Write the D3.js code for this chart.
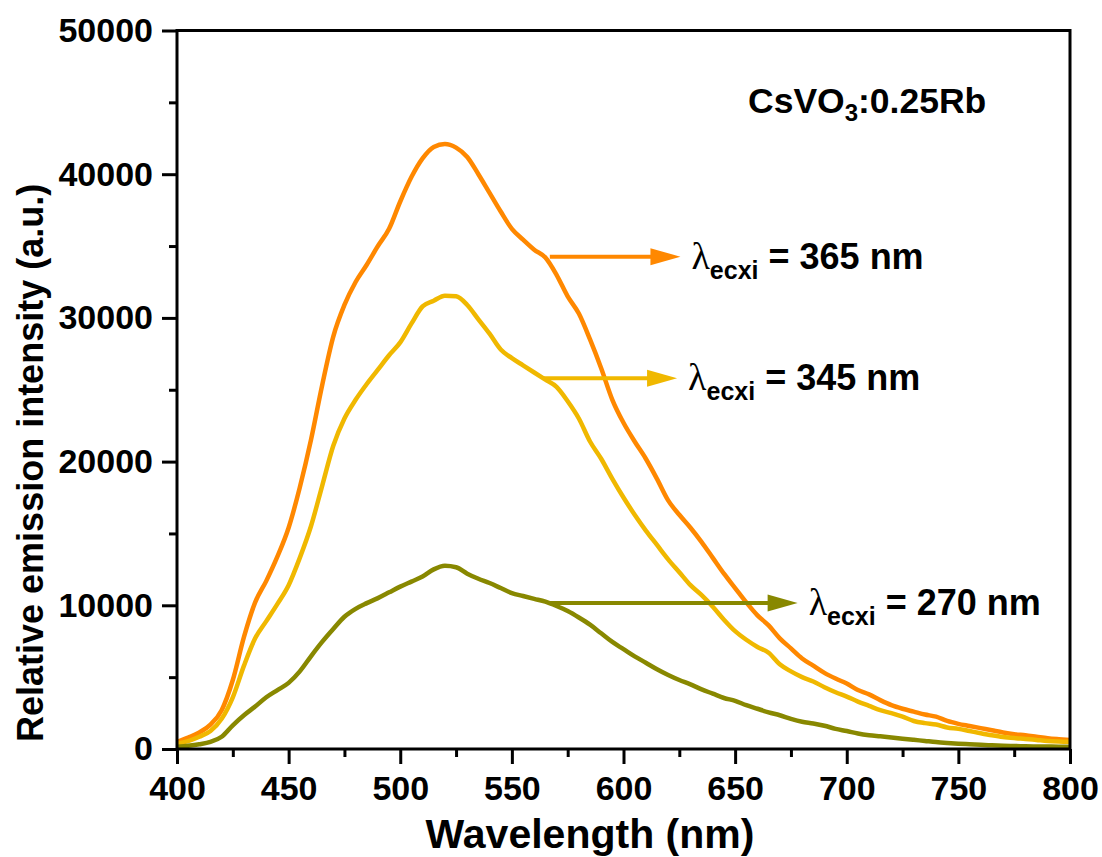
<!DOCTYPE html>
<meta charset="utf-8">
<title>CsVO3:0.25Rb emission</title>
<style>
body { margin: 0; background: #fff; }
text { font-family: "Liberation Sans", Arial, sans-serif; font-weight: bold; }
</style>
<script src="https://d3js.org/d3.v7.min.js"></script>
<div id="chart"></div>
<script>

var width = 1102,
    height = 857,
    margin = {top: 30.5, right: 32, bottom: 108, left: 177};

// wavelength grid (nm)
var wavelengths = [400,405,410,415,420,425,430,435,440,445,450,455,460,465,470,475,480,485,490,495,
  500,505,510,515,520,525,530,535,540,545,550,555,560,565,570,575,580,585,590,595,
  600,605,610,615,620,625,630,635,640,645,650,655,660,665,670,675,680,685,690,695,
  700,705,710,715,720,725,730,735,740,745,750,755,760,765,770,775,780,785,790,795,800];

var exc365 = [500,800,1150,1700,2700,4800,7800,10200,11700,13400,15400,18200,21500,25300,28700,30900,32500,33700,35000,36200,
  38100,39800,41100,41900,42100,41850,41200,40000,38700,37400,36200,35450,34750,34200,33000,31500,30300,28500,26500,24300,
  22700,21400,20200,18800,17300,16300,15400,14400,13300,12200,11200,10200,9300,8600,7700,7000,6300,5800,5300,4900,
  4550,4100,3800,3400,3050,2800,2600,2400,2250,1950,1750,1600,1450,1300,1150,1030,950,850,750,680,620];

var exc345 = [380,550,850,1250,2100,3600,5800,7700,8900,10100,11400,13300,15500,18300,21100,23000,24300,25400,26400,27400,
  28300,29600,30800,31200,31550,31500,30900,29900,28900,27800,27200,26700,26200,25700,25200,24200,23000,21400,20200,18800,
  17500,16300,15200,14200,13200,12300,11400,10700,9900,9000,8200,7600,7100,6700,5900,5400,5000,4700,4300,3950,
  3650,3300,3000,2700,2500,2250,1950,1800,1700,1500,1400,1250,1100,960,840,760,700,630,560,520,500];

var exc270 = [150,220,330,500,850,1650,2350,2950,3600,4100,4600,5400,6450,7450,8350,9200,9750,10150,10500,10900,
  11300,11650,12000,12500,12750,12650,12200,11850,11550,11200,10850,10650,10450,10250,9950,9600,9150,8650,8050,7450,
  6950,6450,6000,5550,5150,4800,4500,4150,3850,3550,3350,3050,2800,2550,2350,2100,1900,1780,1620,1400,
  1250,1080,960,880,800,720,640,560,480,420,370,330,290,260,230,210,190,180,170,160,160];

var seriesNames = ["365", "345", "270"];
var seriesColors = ["#ff8800", "#f0b800", "#888800"];
var seriesValues = [exc365, exc345, exc270];

// annotation arrows (data units): y level, start and tip wavelength
var arrowY  = [34260, 25800, 10160];
var arrowX0 = [567, 564, 567];
var arrowX1 = [625.5, 624, 678];

var xTicks = [400,450,500,550,600,650,700,750,800];
var yTicks = [0,10000,20000,30000,40000,50000];

var svg = d3.select("#chart").append("svg")
    .attr("width", width)
    .attr("height", height);

var x = d3.scaleLinear()
    .domain([400, 800])
    .range([margin.left, width - margin.right]);

var y = d3.scaleLinear()
    .domain([0, 50000])
    .range([height - margin.bottom, margin.top]);

// curves
var line = d3.line()
    .x(function(d) { return x(d[0]); })
    .y(function(d) { return y(d[1]); })
    .curve(d3.curveMonotoneX);

seriesValues.forEach(function(vals, i) {
  svg.append("path")
      .datum(d3.zip(wavelengths, vals))
      .attr("fill", "none")
      .attr("stroke", seriesColors[i])
      .attr("stroke-width", 4.5)
      .attr("stroke-linejoin", "round")
      .attr("d", line);
});

// frame
svg.append("rect")
    .attr("x", x(400))
    .attr("y", y(50000))
    .attr("width", x(800) - x(400))
    .attr("height", y(0) - y(50000))
    .attr("fill", "none")
    .attr("stroke", "#000")
    .attr("stroke-width", 3);

// axes
var xAxis = svg.append("g")
    .attr("transform", "translate(0," + y(0) + ")")
    .call(d3.axisBottom(x).tickValues(xTicks).tickSize(15).tickPadding(12).tickFormat(d3.format("d")));
var xMinor = svg.append("g")
    .attr("transform", "translate(0," + y(0) + ")")
    .call(d3.axisBottom(x).tickValues(d3.range(425, 800, 50)).tickSize(8).tickFormat(""));

var yAxis = svg.append("g")
    .attr("transform", "translate(" + x(400) + ",0)")
    .call(d3.axisLeft(y).tickValues(yTicks).tickSize(15).tickPadding(9).tickFormat(d3.format("d")));
var yMinor = svg.append("g")
    .attr("transform", "translate(" + x(400) + ",0)")
    .call(d3.axisLeft(y).tickValues(d3.range(5000, 50000, 10000)).tickSize(8).tickFormat(""));

[xAxis, xMinor, yAxis, yMinor].forEach(function(g) {
  g.select(".domain").remove();
  g.selectAll(".tick line").attr("stroke", "#000").attr("stroke-width", 3);
  g.selectAll(".tick text")
      .attr("fill", "#000")
      .style("font-size", "34px")
      .style("font-family", "'Liberation Sans', Arial, sans-serif")
      .style("font-weight", "bold");
});

// axis titles
svg.append("text")
    .attr("x", 590)
    .attr("y", 848)
    .attr("text-anchor", "middle")
    .style("font-size", "41px")
    .text("Wavelength (nm)");

svg.append("text")
    .attr("transform", "rotate(-90)")
    .attr("x", -742)
    .attr("y", 43)
    .attr("text-anchor", "start")
    .style("font-size", "36px")
    .text("Relative emission intensity (a.u.)");

// sample label
var sample = svg.append("text")
    .attr("x", 748)
    .attr("y", 113)
    .style("font-size", "35.5px");
sample.append("tspan").text("CsVO");
sample.append("tspan").attr("dy", 8).style("font-size", "24px").text("3");
sample.append("tspan").attr("dy", -8).text(":0.25Rb");

// arrows with excitation labels
seriesNames.forEach(function(name, i) {
  var yy = y(arrowY[i]),
      xs = x(arrowX0[i]),
      xt = x(arrowX1[i]),
      head = 30;
  svg.append("line")
      .attr("x1", xs).attr("y1", yy)
      .attr("x2", xt - head + 2).attr("y2", yy)
      .attr("stroke", seriesColors[i])
      .attr("stroke-width", 4);
  svg.append("path")
      .attr("d", "M" + xt + "," + yy + "L" + (xt - head) + "," + (yy - 8.5) +
                 "L" + (xt - head) + "," + (yy + 8.5) + "Z")
      .attr("fill", seriesColors[i]);

  var t = svg.append("text")
      .attr("x", xt + 11)
      .attr("y", yy + 12)
      .style("font-size", "36px");
  t.append("tspan")
      .style("font-family", "'Liberation Serif', 'DejaVu Serif', serif")
      .style("font-weight", "normal")
      .style("font-size", "38px")
      .text("\u03bb");
  t.append("tspan").attr("dy", 10).style("font-size", "25px").text("ecxi");
  t.append("tspan").attr("dy", -10).text(" = " + name + " nm");
});

</script>
